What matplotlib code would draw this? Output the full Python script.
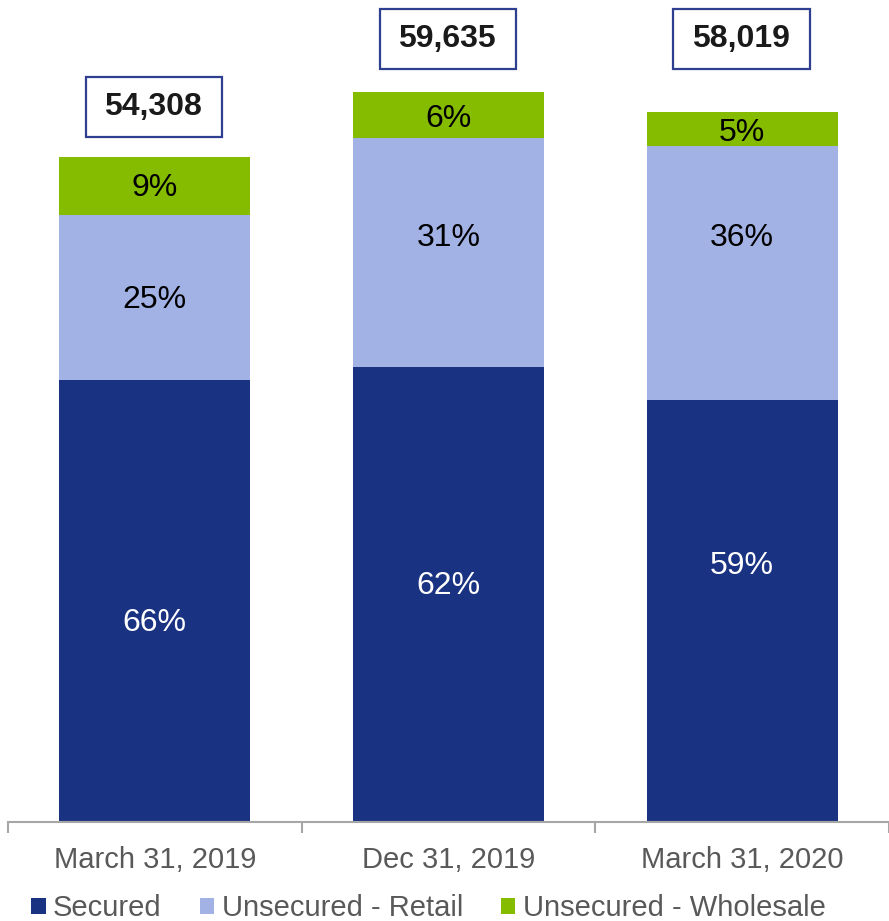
import matplotlib.pyplot as plt
from matplotlib.patches import Patch, Rectangle

plt.rcParams['font.family'] = ['Liberation Sans', 'DejaVu Sans']

periods = ['March 31, 2019', 'Dec 31, 2019', 'March 31, 2020']
totals = [54308, 59635, 58019]
secured = [66.5, 62.3, 59.4]      # share of total, %
retail = [24.8, 31.4, 35.8]
wholesale = [8.7, 6.3, 4.8]

names = ['Secured', 'Unsecured - Retail', 'Unsecured - Wholesale']
colors = ['#1A3282', '#A2B2E4', '#86BC00']
text_colors = ['white', 'black', 'black']

# manual nudges of the % labels (pixels), like the original slide
nudges = [[-22, 9, 45], [-3, 15, 35], [-2, -4, -4]]
box_y = [58400, 63950, 63950]

fig = plt.figure(figsize=(8.89, 9.21), dpi=100)
ax = fig.add_axes([8 / 889, 1 - 822 / 921, 881 / 889, 822 / 921])

x = range(len(periods))
bottoms = [0, 0, 0]
for k, shares in enumerate([secured, retail, wholesale]):
    vals = [s / 100 * t for s, t in zip(shares, totals)]
    ax.bar(x, vals, 0.65, bottom=bottoms, color=colors[k], label=names[k])
    for i, v in enumerate(vals):
        ax.annotate(f'{round(shares[i])}%', (i, bottoms[i] + v / 2),
                    xytext=(0, nudges[k][i]), textcoords='offset pixels',
                    ha='center', va='center', fontsize=23, color=text_colors[k])
    bottoms = [b + v for b, v in zip(bottoms, vals)]

for i, t in enumerate(totals):
    ax.add_patch(Rectangle((i - 0.234, box_y[i] - 2450), 0.464, 4900,
                           facecolor='white', edgecolor='#2E3F8F', lw=1.6))
    ax.text(i - 0.005, box_y[i], f'{t:,}', ha='center', va='center',
            fontsize=23, fontweight='bold', color='#1A1A1A')

ax.set_xlim(-0.5, 2.5)
ax.set_ylim(0, 67150)
ax.set_yticks([])
for s in ['top', 'right', 'left']:
    ax.spines[s].set_visible(False)
ax.spines['bottom'].set_color('#A6A6A6')
ax.spines['bottom'].set_linewidth(1.5)

ax.set_xticks(list(x))
ax.set_xticklabels(periods, fontsize=21, color='#595959')
ax.tick_params(axis='x', which='major', length=0, pad=17)
ax.set_xticks([-0.5, 0.5, 1.5, 2.5], minor=True)
ax.tick_params(axis='x', which='minor', length=8, width=1.5, color='#A6A6A6')

handles = [Patch(facecolor=c) for c in colors]
leg = fig.legend(handles, names, loc='lower left', bbox_to_anchor=(0.022, -0.014),
                 ncol=3, frameon=False, fontsize=21, handlelength=0.5,
                 handleheight=0.5, handletextpad=0.25, columnspacing=1.3,
                 borderaxespad=0)
for t in leg.get_texts():
    t.set_color('#595959')

fig.savefig('out.png', dpi=100)
